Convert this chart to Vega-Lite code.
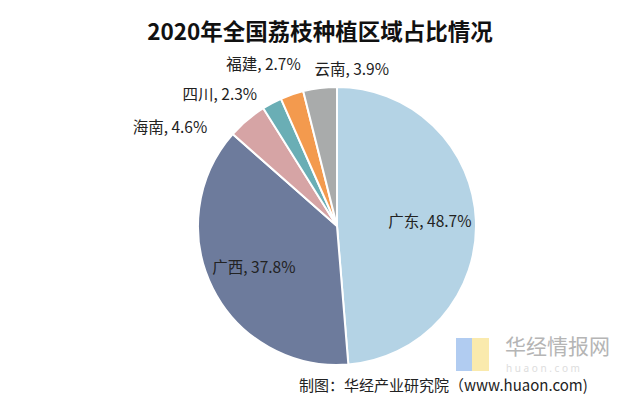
{
  "$schema": "https://vega.github.io/schema/vega-lite/v6.json",
  "width": 634,
  "height": 395,
  "autosize": {"type": "none"},
  "padding": {"left": 3, "top": 7, "right": 3, "bottom": 4},
  "background": "white",
  "config": {"view": {"stroke": "#8a8a8a", "strokeWidth": 2}},
  "title": {
    "text": "2020年全国荔枝种植区域占比情况",
    "font": "Noto Sans CJK SC",
    "fontSize": 22.5,
    "fontWeight": "bold",
    "color": "#111111",
    "anchor": "middle",
    "offset": -37
  },
  "datasets": {
    "pie": [
      {"idx": 1, "region": "广东", "pct": 48.7, "label": "广东, 48.7%"},
      {"idx": 2, "region": "广西", "pct": 37.8, "label": "广西, 37.8%"},
      {"idx": 3, "region": "海南", "pct": 4.6, "label": "海南, 4.6%"},
      {"idx": 4, "region": "四川", "pct": 2.3, "label": "四川, 2.3%"},
      {"idx": 5, "region": "福建", "pct": 2.7, "label": "福建, 2.7%"},
      {"idx": 6, "region": "云南", "pct": 3.9, "label": "云南, 3.9%"}
    ],
    "notes": [
      {"t": "制图：华经产业研究院（www.huaon.com)"}
    ]
  },
  "data": {"name": "pie"},
  "layer": [
    {
      "mark": {"type": "arc", "outerRadius": 139, "stroke": "white", "strokeWidth": 2, "xOffset": 17, "yOffset": 21.5},
      "encoding": {
        "theta": {"field": "pct", "type": "quantitative", "stack": true},
        "order": {"field": "idx", "type": "quantitative"},
        "color": {
          "field": "region",
          "type": "nominal",
          "scale": {
            "domain": ["广东", "广西", "海南", "四川", "福建", "云南"],
            "range": ["#b4d3e5", "#6d7b9c", "#d6a4a5", "#6aaeb5", "#f39a4e", "#a9abab"]
          },
          "legend": null
        }
      }
    },
    {
      "mark": {"type": "text", "radius": 93, "xOffset": 17, "yOffset": 21.5, "font": "Noto Sans CJK SC", "fontSize": 15.5, "color": "#222222"},
      "encoding": {
        "theta": {"field": "pct", "type": "quantitative", "stack": true},
        "order": {"field": "idx", "type": "quantitative"},
        "text": {"condition": {"test": "datum.idx <= 2", "field": "label"}, "value": ""}
      }
    },
    {
      "mark": {"type": "text", "radius": 150, "xOffset": 17, "yOffset": 21.5, "dx": -70, "dy": 16, "font": "Noto Sans CJK SC", "fontSize": 15.5, "color": "#222222"},
      "encoding": {
        "theta": {"field": "pct", "type": "quantitative", "stack": true},
        "order": {"field": "idx", "type": "quantitative"},
        "text": {"condition": {"test": "datum.idx == 3", "field": "label"}, "value": ""}
      }
    },
    {
      "mark": {"type": "text", "radius": 150, "xOffset": 17, "yOffset": 21.5, "dx": -47, "dy": 2, "font": "Noto Sans CJK SC", "fontSize": 15.5, "color": "#222222"},
      "encoding": {
        "theta": {"field": "pct", "type": "quantitative", "stack": true},
        "order": {"field": "idx", "type": "quantitative"},
        "text": {"condition": {"test": "datum.idx == 4", "field": "label"}, "value": ""}
      }
    },
    {
      "mark": {"type": "text", "radius": 150, "xOffset": 17, "yOffset": 21.5, "dx": -25, "dy": -19, "font": "Noto Sans CJK SC", "fontSize": 15.5, "color": "#222222"},
      "encoding": {
        "theta": {"field": "pct", "type": "quantitative", "stack": true},
        "order": {"field": "idx", "type": "quantitative"},
        "text": {"condition": {"test": "datum.idx == 5", "field": "label"}, "value": ""}
      }
    },
    {
      "mark": {"type": "text", "radius": 150, "xOffset": 17, "yOffset": 21.5, "dx": 33, "dy": -7, "font": "Noto Sans CJK SC", "fontSize": 15.5, "color": "#222222"},
      "encoding": {
        "theta": {"field": "pct", "type": "quantitative", "stack": true},
        "order": {"field": "idx", "type": "quantitative"},
        "text": {"condition": {"test": "datum.idx == 6", "field": "label"}, "value": ""}
      }
    },
    {
      "data": {"name": "notes"},
      "mark": {"type": "rect", "x": 453, "x2": 469, "y": 331, "y2": 364, "color": "#a9c7f0", "opacity": 0.9},
      "encoding": {}
    },
    {
      "data": {"name": "notes"},
      "mark": {"type": "rect", "x": 469, "x2": 486, "y": 331, "y2": 364, "color": "#fae8a4", "opacity": 0.9},
      "encoding": {}
    },
    {
      "data": {"name": "notes"},
      "mark": {"type": "text", "x": 502, "y": 341, "align": "left", "baseline": "middle", "font": "Noto Sans CJK SC", "fontSize": 21, "color": "#b5b5b5", "text": "华经情报网"},
      "encoding": {}
    },
    {
      "data": {"name": "notes"},
      "mark": {"type": "text", "x": 503, "y": 362, "align": "left", "baseline": "middle", "font": "Noto Sans", "fontSize": 10, "color": "#dddddd", "text": "h u a o n . c o m"},
      "encoding": {}
    },
    {
      "data": {"name": "notes"},
      "mark": {"type": "text", "x": 296, "y": 379, "align": "left", "baseline": "middle", "font": "Noto Sans CJK SC", "fontSize": 15, "color": "#222222"},
      "encoding": {"text": {"field": "t"}}
    }
  ]
}
